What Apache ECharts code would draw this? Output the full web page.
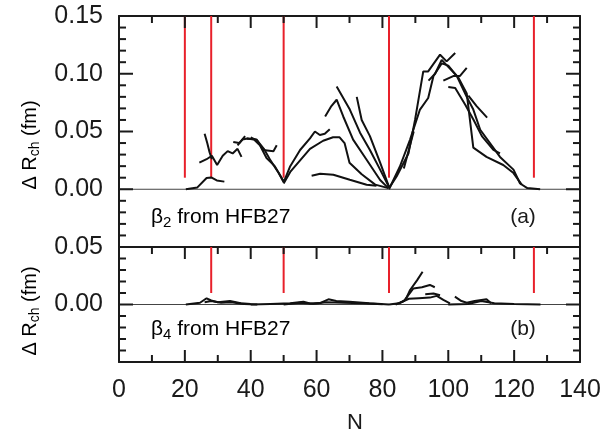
<!DOCTYPE html>
<html><head><meta charset="utf-8">
<script src="https://cdn.jsdelivr.net/npm/echarts@6/dist/echarts.min.js"></script>
<style>html,body{margin:0;padding:0;background:#fff}#c{width:608px;height:435px}</style>
</head><body><div id="c"></div>
<script>
// ---- axis definitions ----
const xRange = [0, 140];
const xStep = 20;
const yTopRange = [-0.05, 0.15];
const yBottomRange = [-0.05, 0.05];
const yStep = 0.05;
const xMajorTicks = [0, 20, 40, 60, 80, 100, 120, 140];
const xMinorTicks = [10, 30, 50, 70, 90, 110, 130];
const yMajorTicksTop = [-0.05, 0, 0.05, 0.10, 0.15];
const yMinorTicksTop = [-0.04,-0.03,-0.02,-0.01,0.01,0.02,0.03,0.04,0.06,0.07,0.08,0.09,0.11,0.12,0.13,0.14];
const yMajorTicksBottom = [-0.05, 0, 0.05];
const yMinorTicksBottom = [-0.04,-0.03,-0.02,-0.01,0.01,0.02,0.03,0.04];

// ---- magic numbers (red markers) ----
const magicTop = [20, 28, 50, 82, 126];
const magicBottom = [28, 50, 82, 126];
const markerTop = [0.01, 0.15];
const markerBottom = [0.01, 0.05];

// ---- panel (a): beta2 from HFB27, [N, dRch] ----
const a1 = [[20.3,0],[23.8,0.0016],[26.6,0.0097],[28,0.0102],[29.7,0.0076],[32,0.0066]];
const a2 = [[26,0.048],[26.8,0.040],[27.5,0.032],[28.2,0.026]];
const a3 = [[24.4,0.023],[26.6,0.026],[28.2,0.029],[29.8,0.021],[31.5,0.029],[33,0.033],[34.5,0.031],[36,0.035],[37.2,0.028]];
const a4 = [[34.7,0.041],[36.5,0.040],[38.3,0.046]];
const a5 = [[36,0.038],[37.5,0.043],[39,0.044],[41.8,0.043],[43.8,0.034],[46.9,0.033],[47.9,0.038]];
const a6 = [[38.8,0.044],[41,0.043],[42.8,0.038],[44.8,0.027],[47.3,0.020],[50,0.007]];
const a7 = [[40,0.045],[42,0.042],[44,0.035],[46,0.025],[48.5,0.014],[50,0.006],[52,0.020],[55,0.034],[58,0.044],[59.5,0.050],[61,0.047],[62.5,0.048],[64,0.052]];
const a8 = [[50,0.005],[52,0.015],[55,0.025],[58,0.035],[62,0.042],[65,0.045],[67,0.045],[68.5,0.040],[70,0.023],[73.7,0.013],[77.8,0.004],[81.8,0.001]];
const a9 = [[62.6,0.063],[64.5,0.072],[66.1,0.0775],[68.1,0.063],[71.1,0.043],[75.2,0.0255],[79.3,0.008],[81.8,0.001]];
const a10 = [[66.1,0.089],[70.1,0.069],[73.2,0.049],[76.2,0.034],[79.3,0.017],[82,0.002]];
const a11 = [[72.2,0.080],[73.7,0.060],[76.2,0.046],[79.3,0.023],[82,0.002]];
const a12 = [[58.5,0.0117],[61.1,0.0134],[65.1,0.0126],[70.1,0.0082],[75.2,0.0039],[78.2,0.003]];
const a13 = [[82,0.001],[84.3,0.011],[87.9,0.031],[89.9,0.060],[92.4,0.102],[93.9,0.102],[97.5,0.1165],[99.5,0.1107],[102.1,0.118]];
const a14 = [[82,0],[85.3,0.0197],[88.4,0.043],[91.4,0.069],[93.9,0.079],[95.5,0.098],[98,0.109],[100,0.107],[102.6,0.098],[105.6,0.080],[107.6,0.069],[109.7,0.0515],[115.7,0.028],[119.8,0.017],[121.8,0.005],[124,0.001],[127.9,0]];
const a15 = [[94,0.094],[96,0.100],[98,0.112],[100,0.106],[103,0.097],[105.6,0.083],[107.6,0.036],[111.6,0.028],[116.7,0.021],[119.8,0.014],[122.3,0.004]];
const a16 = [[98.5,0.094],[101.5,0.098],[103.5,0.098],[105.6,0.105]];
const a17 = [[100,0.0885],[102.1,0.0877],[105.2,0.073],[107.7,0.060],[110.2,0.046],[113.7,0.034],[115.7,0.031]];
const a18 = [[106.1,0.081],[108.6,0.072],[111.8,0.062]];
const a19 = [[86.5,0.018],[88,0.034],[89.5,0.050]];

// ---- panel (b): beta4 from HFB27, [N, dRch] ----
const b1 = [[20.3,0],[24.6,0.0015],[26.6,0.0054],[28,0.0035],[30,0.002],[33.7,0.003],[37,0.001],[40,0.0005]];
const b2 = [[26,0.002],[28,0.003],[31,0.0015],[34,0.002],[38,0.0005],[42,0]];
const b3 = [[40,0],[46,0.0005],[52,0.001],[56,0.0025],[58,0.0008],[61,0.0012],[63.6,0.0045],[66,0.003],[70,0.0025],[76,0.001],[82,0]];
const b4 = [[50,0],[55,0.0015],[59,0.0006],[63,0.002],[68,0.0015],[74,0.001],[80,0.0003]];
const b5 = [[82,0],[85,0.001],[87,0.004],[88.4,0.0126],[90.5,0.021],[92.2,0.0285]];
const b6 = [[84,0],[86.5,0.003],[89.4,0.014],[92,0.015],[94.4,0.017],[95.9,0.015]];
const b7 = [[85,0.001],[88,0.005],[91,0.0055],[94.4,0.006],[96.5,0.0075],[98.5,0.004],[100.5,0.001]];
const b8 = [[93,0.009],[95.5,0.0095],[97.5,0.008]];
const b9 = [[102,0.0068],[104,0.003],[105.6,0.0015],[108,0.003],[111.6,0.0045],[113,0.001]];
const b10 = [[100,0],[106,0.0005],[110,0.003],[114,0.001],[120,0.0005],[128,0]];

const topChains = [a1,a2,a3,a4,a5,a6,a7,a8,a9,a10,a11,a12,a13,a14,a15,a16,a17,a18,a19];
const bottomChains = [b1,b2,b3,b4,b5,b6,b7,b8,b9,b10];

const FONT = '"Liberation Sans", Arial, Helvetica, sans-serif';
const INK = '#1a1a1a';
const GRID_W = 461, TOP_H = 231, BOT_H = 115;
const TICK = {xMajor: 12, xMinor: 7, yMajor: 14, yMinor: 7};

function xA(g, pos, lab) {
  return {type:'value', gridIndex:g, position:pos, min:xRange[0], max:xRange[1], interval:xStep,
    axisLine:{show:true, onZero:false, lineStyle:{color:INK, width:2}},
    axisTick:{show:false}, minorTick:{show:false},
    splitLine:{show:false}, minorSplitLine:{show:false},
    axisLabel:{show:lab, color:INK, fontSize:25, fontFamily:FONT, margin:16}};
}
function yA(g, pos, r, lab) {
  return {type:'value', gridIndex:g, position:pos, min:r[0], max:r[1], interval:yStep,
    axisLine:{show:true, onZero:false, lineStyle:{color:INK, width:2}},
    axisTick:{show:false}, minorTick:{show:false},
    splitLine:{show:false}, minorSplitLine:{show:false},
    axisLabel:{show:lab, color:INK, fontSize:25, fontFamily:FONT, margin:16,
      formatter: v => (v < -0.001 ? '' : Math.abs(v).toFixed(2))}};
}

const series = [];
// inward tick marks as short line segments through the axes' scales
function addTicks(xi, yi, yr, gridH, yMaj, yMin, sides) {
  const ux = GRID_W / (xRange[1] - xRange[0]);
  const uy = gridH / (yr[1] - yr[0]);
  const seg = d => series.push({type:'line', xAxisIndex:xi, yAxisIndex:yi, data:d, symbol:'none',
    silent:true, clip:false, lineStyle:{color:INK, width:2}, z:5});
  const xs = [[xMajorTicks, TICK.xMajor], [xMinorTicks, TICK.xMinor]];
  const ys = [[yMaj, TICK.yMajor], [yMin, TICK.yMinor]];
  if (sides.includes('b')) xs.forEach(([vals, len]) => vals.forEach(v => seg([[v, yr[0]], [v, yr[0] + len / uy]])));
  if (sides.includes('t')) xs.forEach(([vals, len]) => vals.forEach(v => seg([[v, yr[1]], [v, yr[1] - len / uy]])));
  if (sides.includes('l')) ys.forEach(([vals, len]) => vals.forEach(v => seg([[xRange[0], v], [xRange[0] + len / ux, v]])));
  if (sides.includes('r')) ys.forEach(([vals, len]) => vals.forEach(v => seg([[xRange[1], v], [xRange[1] - len / ux, v]])));
}

series.push({type:'line', xAxisIndex:0, yAxisIndex:0, data:[[xRange[0],0],[xRange[1],0]], symbol:'none', silent:true,
  lineStyle:{color:'#444', width:1}, z:1});
series.push({type:'line', xAxisIndex:2, yAxisIndex:2, data:[[xRange[0],0],[xRange[1],0]], symbol:'none', silent:true,
  lineStyle:{color:'#444', width:1}, z:1});
magicTop.forEach(n => series.push({type:'line', xAxisIndex:0, yAxisIndex:0, data:[[n,markerTop[0]],[n,markerTop[1]]],
  symbol:'none', silent:true, lineStyle:{color:'#e8202a', width:2}, z:2}));
magicBottom.forEach(n => series.push({type:'line', xAxisIndex:2, yAxisIndex:2, data:[[n,markerBottom[0]],[n,markerBottom[1]]],
  symbol:'none', silent:true, lineStyle:{color:'#e8202a', width:2}, z:2}));
topChains.forEach(d => series.push({type:'line', xAxisIndex:0, yAxisIndex:0, data:d, symbol:'none', silent:true,
  lineStyle:{color:'#111', width:2}, z:3}));
bottomChains.forEach(d => series.push({type:'line', xAxisIndex:2, yAxisIndex:2, data:d, symbol:'none', silent:true,
  lineStyle:{color:'#111', width:2}, z:3}));
addTicks(0, 0, yTopRange, TOP_H, yMajorTicksTop, yMinorTicksTop, 'tlr');
addTicks(2, 2, yBottomRange, BOT_H, yMajorTicksBottom, yMinorTicksBottom, 'btlr');

const yNameRich = {
  a: {fontSize: 20, fontFamily: FONT, color: INK, lineHeight: 24},
  s: {fontSize: 14, fontFamily: FONT, color: INK, lineHeight: 14, padding: [10,0,0,0]}
};
const pRich = {
  a: {fontSize: 21, fontFamily: FONT, color: INK, lineHeight: 26},
  s: {fontSize: 15, fontFamily: FONT, color: INK, lineHeight: 15, padding: [11,0,0,0]}
};

const chart = echarts.init(document.getElementById('c'));
chart.setOption({
  animation: false,
  grid: [
    {left: 119, top: 16, width: GRID_W, height: TOP_H},
    {left: 119, top: 16 + TOP_H, width: GRID_W, height: BOT_H}
  ],
  xAxis: [xA(0,'bottom',false), xA(0,'top',false), xA(1,'bottom',true), xA(1,'top',false)],
  yAxis: [yA(0,'left',yTopRange,true), yA(0,'right',yTopRange,false),
          yA(1,'left',yBottomRange,true), yA(1,'right',yBottomRange,false)],
  series,
  graphic: [
    {type:'text', x:30, y:145, rotation: Math.PI/2,
      style:{text:'{a|\u0394 R}{s|ch}{a| (fm)}', rich:yNameRich, align:'center', verticalAlign:'middle'}},
    {type:'text', x:30, y:311, rotation: Math.PI/2,
      style:{text:'{a|\u0394 R}{s|ch}{a| (fm)}', rich:yNameRich, align:'center', verticalAlign:'middle'}},
    {type:'text', x:355, y:423,
      style:{text:'N', fontSize:22, fontFamily:FONT, fill:INK, align:'center', verticalAlign:'middle'}},
    {type:'text', x:151, y:217,
      style:{text:'{a|\u03b2}{s|2}{a| from HFB27}', rich:pRich, align:'left', verticalAlign:'middle'}},
    {type:'text', x:523, y:217,
      style:{text:'(a)', fontSize:21, fontFamily:FONT, fill:INK, align:'center', verticalAlign:'middle'}},
    {type:'text', x:151, y:329,
      style:{text:'{a|\u03b2}{s|4}{a| from HFB27}', rich:pRich, align:'left', verticalAlign:'middle'}},
    {type:'text', x:523, y:329,
      style:{text:'(b)', fontSize:21, fontFamily:FONT, fill:INK, align:'center', verticalAlign:'middle'}}
  ]
});
</script></body></html>
